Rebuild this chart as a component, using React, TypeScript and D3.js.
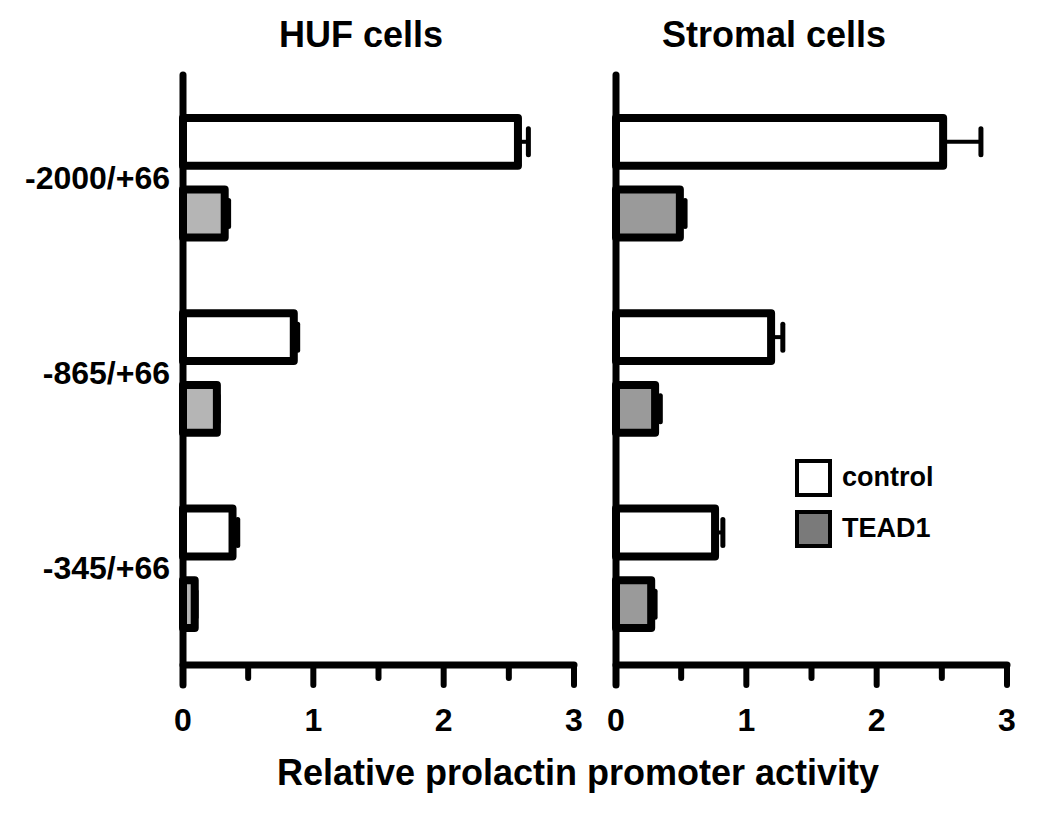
import React from "react";
import * as d3 from "d3";

const constructs = ["-2000/+66", "-865/+66", "-345/+66"];
const groups = ["control", "TEAD1"];

// HUF cells
const hufControl = [2.57, 0.85, 0.38];
const hufControlErr = [0.08, 0.03, 0.04];
const hufTead = [0.32, 0.26, 0.09];
const hufTeadErr = [0.03, 0.01, 0.01];

// Stromal cells
const stromaControl = [2.51, 1.19, 0.76];
const stromaControlErr = [0.29, 0.09, 0.06];
const stromaTead = [0.49, 0.3, 0.27];
const stromaTeadErr = [0.04, 0.04, 0.03];

const xTicks = [0, 0.5, 1, 1.5, 2, 2.5, 3];
const font = "'Liberation Sans', Arial, Helvetica, sans-serif";

const yTop = 75;
const yBase = 665;

const y = d3.scaleBand().domain(constructs).range([80, 666]);
const inner = d3
  .scaleBand()
  .domain(groups)
  .range([0, y.bandwidth()])
  .paddingInner(1 / 3)
  .paddingOuter(0.528);

const Panel = ({ x, title, titleX, control, controlErr, tead, teadErr, grey }) => {
  const x0 = x(0);
  const rows = constructs.flatMap((c, i) => [
    { c, g: "control", v: control[i], e: controlErr[i], fill: "#ffffff" },
    { c, g: "TEAD1", v: tead[i], e: teadErr[i], fill: grey },
  ]);
  return (
    <g>
      <text x={titleX} y={47} textAnchor="middle" fontSize={36} fontWeight="bold" fontFamily={font}>
        {title}
      </text>
      {rows.map((r, i) => {
        const yy = y(r.c) + inner(r.g);
        const h = inner.bandwidth();
        const xe = x(r.v + r.e);
        return (
          <g key={i}>
            <line x1={x(r.v)} x2={xe} y1={yy + h / 2} y2={yy + h / 2} stroke="#000" strokeWidth={4} />
            <line x1={xe} x2={xe} y1={yy + h / 2 - 13} y2={yy + h / 2 + 13} stroke="#000" strokeWidth={5} strokeLinecap="round" />
            <rect
              x={x0}
              y={yy}
              width={x(r.v) - x0}
              height={h}
              fill={r.fill}
              stroke="#000"
              strokeWidth={8}
              strokeLinejoin="round"
            />
          </g>
        );
      })}
      {/* axes */}
      <line x1={x0} x2={x0} y1={yTop} y2={yBase + 20} stroke="#000" strokeWidth={7} strokeLinecap="round" />
      <line x1={x0} x2={x(3)} y1={yBase} y2={yBase} stroke="#000" strokeWidth={7} strokeLinecap="round" />
      {xTicks.map((t) => (
        <line
          key={t}
          x1={x(t)}
          x2={x(t)}
          y1={yBase}
          y2={yBase + (Number.isInteger(t) ? 20 : 13)}
          stroke="#000"
          strokeWidth={6}
          strokeLinecap="round"
        />
      ))}
      {xTicks.filter((t) => Number.isInteger(t)).map((t) => (
        <text key={t} x={x(t)} y={731} textAnchor="middle" fontSize={32} fontWeight="bold" fontFamily={font}>
          {t}
        </text>
      ))}
    </g>
  );
};

export default function App() {
  const xLeft = d3.scaleLinear().domain([0, 3]).range([183, 574]);
  const xRight = d3.scaleLinear().domain([0, 3]).range([616, 1007]);
  const legend = [
    { name: "control", fill: "#ffffff" },
    { name: "TEAD1", fill: "#7a7a7a" },
  ];
  return (
    <svg width={1050} height={822} style={{ position: "absolute", left: 0, top: 0, background: "#fff" }}>
      <rect width={1050} height={822} fill="#fff" />
      <Panel
        x={xLeft}
        title="HUF cells"
        titleX={361}
        control={hufControl}
        controlErr={hufControlErr}
        tead={hufTead}
        teadErr={hufTeadErr}
        grey="#b5b5b5"
      />
      <Panel
        x={xRight}
        title="Stromal cells"
        titleX={774}
        control={stromaControl}
        controlErr={stromaControlErr}
        tead={stromaTead}
        teadErr={stromaTeadErr}
        grey="#9a9a9a"
      />
      {constructs.map((c) => (
        <text
          key={c}
          x={170}
          y={y(c) + y.bandwidth() / 2 + 11}
          textAnchor="end"
          fontSize={32}
          fontWeight="bold"
          fontFamily={font}
        >
          {c}
        </text>
      ))}
      {legend.map((l, i) => (
        <g key={l.name} transform={`translate(797, ${461 + i * 51})`}>
          <rect width={33} height={34} fill={l.fill} stroke="#000" strokeWidth={4} />
          <text x={45} y={25} fontSize={27} fontWeight="bold" fontFamily={font}>
            {l.name}
          </text>
        </g>
      ))}
      <text x={578} y={785} textAnchor="middle" fontSize={36} fontWeight="bold" fontFamily={font}>
        Relative prolactin promoter activity
      </text>
    </svg>
  );
}
